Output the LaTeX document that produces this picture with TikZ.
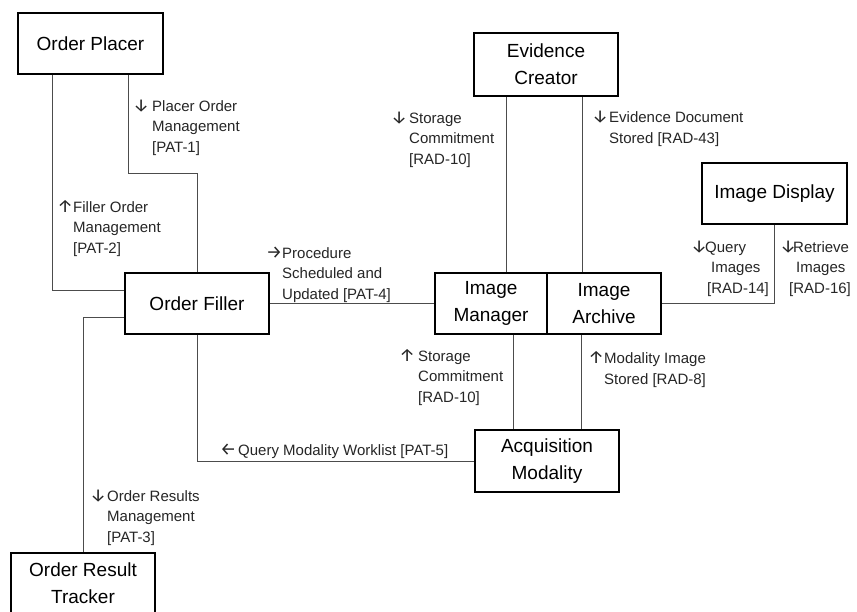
\documentclass[tikz,border=0pt]{standalone}
\usepackage{fontspec}
\setmainfont{Liberation Sans}
\newfontfamily\arrowfont{Fira Sans}
\usetikzlibrary{calc}

% arrow glyph hung to the left of a label's first line
\newcommand\lead[2]{\llap{\makebox[#2pt][l]{\arrowfont\fontsize{18}{18}\selectfont #1}}}

\begin{document}
\begin{tikzpicture}[x=1pt, y=-1pt,
  actor/.style={draw=black, line width=1.6pt, align=center, inner sep=0pt,
    font=\fontsize{19}{27}\selectfont},
  link/.style={draw=black!70, line width=1pt},
  txn/.style={anchor=base west, align=left, inner sep=0pt, text=black!85,
    font=\fontsize{15}{20.5}\selectfont}]

\fill[white] (0,0) rectangle (857,611);
\useasboundingbox (0,0) rectangle (857,611);
\clip (0,0) rectangle (857,611);

% actors
\node[actor, minimum width=145pt, minimum height=61pt] (placer)   at (90.5,43.5)  {Order Placer};
\node[actor, minimum width=144pt, minimum height=61pt] (filler)   at (197,303.5)  {Order Filler};
\node[actor, minimum width=144pt, minimum height=61pt] (tracker)  at (83,583.5)   {Order Result\\Tracker};
\node[actor, minimum width=144pt, minimum height=63pt] (evidence) at (546,64.5)   {Evidence\\Creator};
\node[actor, minimum width=112pt, minimum height=61pt] (manager)  at (491,303.5)  {Image\\Manager};
\node[actor, minimum width=114pt, minimum height=61pt] (archive)  at (604,303.5)  {Image\\Archive};
\node[actor, minimum width=145pt, minimum height=61pt] (display)  at (774.5,193.5) {Image Display};
\node[actor, minimum width=144pt, minimum height=62pt] (acq)      at (547,461)    {Acquisition\\Modality};

% connection points
\coordinate (pA) at ($(placer.south)+(37.5,0)$);
\coordinate (pB) at ($(placer.south)+(-38.5,0)$);
\coordinate (fA) at ($(filler.west)+(0,-13.5)$);
\coordinate (fB) at ($(filler.west)+(0,13.5)$);
\coordinate (mT) at ($(manager.north)+(15,0)$);
\coordinate (aT) at ($(archive.north)+(-22,0)$);
\coordinate (mB) at ($(manager.south)+(22.5,0)$);
\coordinate (aB) at ($(archive.south)+(-23,0)$);

% transactions
\draw[link] (pA) -- ++(0,99) -| (filler.north);
\draw[link] (pB) |- (fA);
\draw[link] (fB) -| (tracker.north);
\draw[link] (filler.south) |- (acq.west);
\draw[link] (filler.east) -- (manager.west);
\draw[link] (mT) -- (mT |- evidence.south);
\draw[link] (aT) -- (aT |- evidence.south);
\draw[link] (mB) -- (mB |- acq.north);
\draw[link] (aB) -- (aB |- acq.north);
\draw[link] (display.south) |- (archive.east);

% transaction labels (anchored at the baseline of their last line)
\node[txn] (t1) at (152,152) {\lead{↓}{19}Placer Order\\Management\\{[PAT-1]}};
\node[txn] (t2) at (73,253) {\lead{↑}{16}Filler Order\\Management\\{[PAT-2]}};
\node[txn] (t4) at (282,299) {\lead{→}{16}Procedure\\Scheduled and\\Updated [PAT-4]};
\node[txn] (t10a) at (409,164) {\lead{↓}{18}Storage\\Commitment\\{[RAD-10]}};
\node[txn] (t43) at (609,143) {\lead{↓}{17}Evidence Document\\Stored [RAD-43]};
\node[txn] (t14) at (705,293) {\lead{↓}{14}Query\\\hspace*{6pt}Images\\\hspace*{2pt}[RAD-14]};
\node[txn] (t16) at (793,293) {\lead{↓}{13}Retrieve\\\hspace*{3pt}Images\\\hspace*{-4pt}[RAD-16]};
\node[txn] (t10b) at (418,402) {\lead{↑}{19}Storage\\Commitment\\{[RAD-10]}};
\node[txn] (t8) at (604,384) {\lead{↑}{16}Modality Image\\Stored [RAD-8]};
\node[txn] (t5) at (238,455) {\lead{←}{18}Query Modality Worklist [PAT-5]};
\node[txn] (t3) at (107,542) {\lead{↓}{17}Order Results\\Management\\{[PAT-3]}};

\end{tikzpicture}
\end{document}
